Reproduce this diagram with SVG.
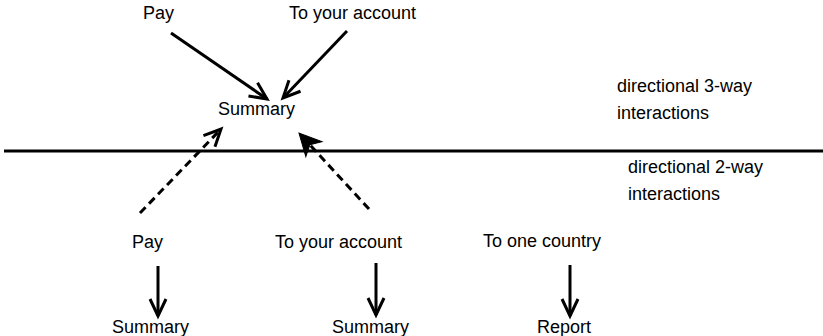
<svg xmlns="http://www.w3.org/2000/svg" width="823" height="336" viewBox="0 0 823 336">
<style>
text{font-family:"Liberation Sans",Arial,sans-serif;font-size:18px;fill:#000}
.a{stroke:#000;stroke-width:3;fill:none}
.d{stroke:#000;stroke-width:3;fill:none;stroke-dasharray:8 5}
</style>
<defs>
<marker id="v" markerUnits="userSpaceOnUse" markerWidth="40" markerHeight="40" viewBox="-20 -20 40 40" refX="0" refY="0" orient="auto">
<path d="M-17,-8 L0,0 L-17,8" fill="none" stroke="#000" stroke-width="3" stroke-linejoin="miter"/>
</marker>
<marker id="f" markerUnits="userSpaceOnUse" markerWidth="50" markerHeight="50" viewBox="-25 -25 50 50" refX="0" refY="0" orient="auto">
<path d="M0,0 L-22,-11 L-16,0 L-22,11 Z" fill="#000" stroke="#000" stroke-width="1"/>
</marker>
</defs>
<g id="connectors">
<line class="a" x1="171" y1="33" x2="267" y2="99" marker-end="url(#v)"/>
<line class="a" x1="347" y1="31" x2="283" y2="98" marker-end="url(#v)"/>
<line class="a" x1="4" y1="151" x2="823" y2="151"/>
<line class="d" x1="140" y1="213" x2="221" y2="129" marker-end="url(#v)"/>
<line class="d" x1="369" y1="209" x2="299" y2="133" marker-end="url(#f)"/>
<line class="a" x1="158" y1="266" x2="158" y2="316" marker-end="url(#v)"/>
<line class="a" x1="376" y1="263" x2="376" y2="315" marker-end="url(#v)"/>
<line class="a" x1="570" y1="265" x2="570" y2="316" marker-end="url(#v)"/>
</g>
<g id="top-pay"><text x="143" y="19">Pay</text></g>
<g id="top-account"><text x="289" y="19">To your account</text></g>
<g id="top-summary"><text x="218" y="115">Summary</text></g>
<g id="label-3way"><text x="617" y="92">directional 3-way</text><text x="617" y="119">interactions</text></g>
<g id="label-2way"><text x="628" y="173">directional 2-way</text><text x="628" y="200">interactions</text></g>
<g id="bottom-pay"><text x="132" y="248">Pay</text></g>
<g id="bottom-account"><text x="275" y="248">To your account</text></g>
<g id="bottom-country"><text x="483" y="247">To one country</text></g>
<g id="bottom-summary1"><text x="112" y="333">Summary</text></g>
<g id="bottom-summary2"><text x="332" y="333">Summary</text></g>
<g id="bottom-report"><text x="537" y="333">Report</text></g>
</svg>
